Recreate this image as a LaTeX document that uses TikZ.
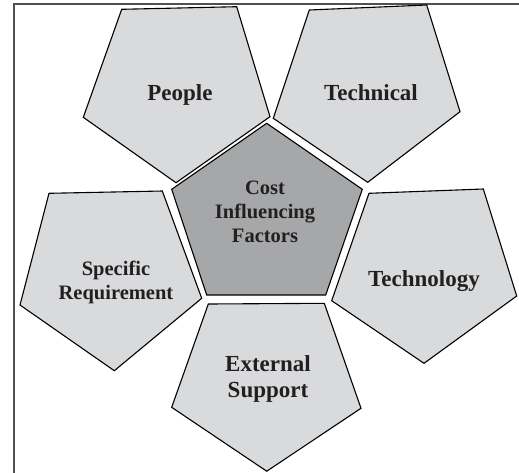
\documentclass[tikz,border=0pt]{standalone}
\usepackage{fontspec}
\setmainfont{Liberation Serif}
\definecolor{outerfill}{RGB}{217,218,220}
\definecolor{centerfill}{RGB}{166,167,169}
\definecolor{inktext}{RGB}{35,31,32}
\definecolor{framecol}{RGB}{80,80,80}
\tikzset{
  outerpent/.style={fill=outerfill, draw=black, line width=1.1pt, line join=miter},
  centerpent/.style={fill=centerfill, draw=black, line width=1.1pt, line join=miter},
  bigtext/.style={text=inktext, font=\bfseries\fontsize{23}{26.4}\selectfont, align=center, inner sep=0pt},
  smalltext/.style={text=inktext, font=\bfseries\fontsize{20.5}{24.2}\selectfont, align=center, inner sep=0pt},
  framestyle/.style={draw=framecol, line width=1.6pt}
}
\begin{document}
\begin{tikzpicture}[x=1pt,y=-1pt]
\useasboundingbox (0,0) rectangle (519,472);
% frame (top and left edges)
\draw[framestyle] (14,473) -- (14,4) -- (520,4);
% outer pentagons
\draw[outerpent] (121.7,9.3) -- (236.7,6.7) -- (270,116.7) -- (176,182.7) -- (83.3,117.3) -- cycle;
\draw[outerpent] (309.3,10) -- (426.7,5) -- (460,111.7) -- (367.7,182.3) -- (273.3,118.3) -- cycle;
\draw[outerpent] (49,193.3) -- (162.3,191) -- (201.7,298.3) -- (114.3,370.7) -- (20,305) -- cycle;
\draw[outerpent] (369,193.3) -- (483.3,189) -- (516.7,296) -- (424,363.3) -- (331.7,300.7) -- cycle;
\draw[outerpent] (208.3,304) -- (324.3,303.3) -- (361,408.3) -- (266.7,471.2) -- (171.7,407.3) -- cycle;
% central pentagon
\draw[centerpent] (266.7,123.3) -- (362.3,189.3) -- (325.7,295) -- (206.7,295) -- (171.7,189.3) -- cycle;
% labels
\node[smalltext] (cost) at (265,212) {Cost\\Influencing\\Factors};
\node[bigtext, anchor=base] (people) at (180,100) {People};
\node[bigtext, anchor=base] (technical) at (371,100) {Technical};
\node[bigtext, anchor=base] (technology) at (424,286) {Technology};
\node[smalltext] (specific) at (116,282.2) {Specific\\Requirement};
\node[bigtext] (external) at (268,378.9) {External\\Support};
\end{tikzpicture}
\end{document}
